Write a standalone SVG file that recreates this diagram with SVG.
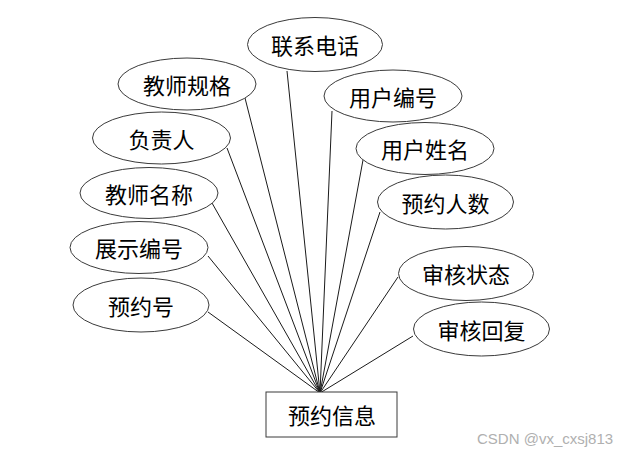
<svg xmlns="http://www.w3.org/2000/svg" width="630" height="457" viewBox="0 0 630 457">
<style>
.e{fill:#fff;stroke:#3a3a3a;stroke-width:1}
.t{font-family:"Noto Sans CJK SC","Noto Sans CJK JP",sans-serif;font-size:22px;fill:#000;text-anchor:middle;dominant-baseline:central}
.c line{stroke:#1a1a1a;stroke-width:1}
</style>
<rect width="630" height="457" fill="#fff"/>
<g class="c" id="connectors">
<line x1="287" y1="71" x2="320" y2="393"/>
<line x1="245" y1="98" x2="320" y2="393"/>
<line x1="227" y1="148" x2="320" y2="393"/>
<line x1="332" y1="111" x2="320" y2="393"/>
<line x1="363" y1="160" x2="320" y2="393"/>
<line x1="380" y1="212" x2="320" y2="393"/>
<line x1="212" y1="203" x2="320" y2="393"/>
<line x1="208" y1="256" x2="320" y2="393"/>
<line x1="208" y1="312" x2="320" y2="393"/>
<line x1="398" y1="277" x2="320" y2="393"/>
<line x1="413" y1="336" x2="320" y2="393"/>
</g>
<g id="n_lxdh"><ellipse class="e" cx="315" cy="44.5" rx="67.5" ry="27"/><text class="t" x="315" y="43.5">联系电话</text></g>
<g id="n_jsgg"><ellipse class="e" cx="187" cy="84" rx="69" ry="26"/><text class="t" x="187" y="83.5">教师规格</text></g>
<g id="n_fzr"><ellipse class="e" cx="161.5" cy="138" rx="69" ry="26"/><text class="t" x="161.5" y="137.5">负责人</text></g>
<g id="n_yhbh"><ellipse class="e" cx="393" cy="96" rx="69" ry="26"/><text class="t" x="393" y="95.5">用户编号</text></g>
<g id="n_yhxm"><ellipse class="e" cx="425" cy="148.5" rx="69" ry="26"/><text class="t" x="425" y="148">用户姓名</text></g>
<g id="n_yyrs"><ellipse class="e" cx="445.5" cy="202" rx="68" ry="27"/><text class="t" x="445.5" y="201.5">预约人数</text></g>
<g id="n_jsmc"><ellipse class="e" cx="149" cy="193" rx="69" ry="25.5"/><text class="t" x="149" y="192.5">教师名称</text></g>
<g id="n_zsbh"><ellipse class="e" cx="139" cy="247.5" rx="69" ry="26"/><text class="t" x="139" y="247">展示编号</text></g>
<g id="n_yyh"><ellipse class="e" cx="141" cy="305" rx="68" ry="27"/><text class="t" x="141" y="304.5">预约号</text></g>
<g id="n_shzt"><ellipse class="e" cx="466" cy="273.5" rx="67.5" ry="27"/><text class="t" x="466" y="273">审核状态</text></g>
<g id="n_shhf"><ellipse class="e" cx="481.5" cy="329" rx="68" ry="27"/><text class="t" x="481.5" y="328.5">审核回复</text></g>
<g id="n_yyxx"><rect x="266" y="392" width="131" height="45" fill="#fff" stroke="#3a3a3a" stroke-width="1"/><text class="t" x="332" y="413.5">预约信息</text></g>
<text x="477" y="444" font-family="Liberation Sans,Arial,sans-serif" font-size="15" fill="#b0b0b0">CSDN @vx_cxsj813</text>
</svg>
